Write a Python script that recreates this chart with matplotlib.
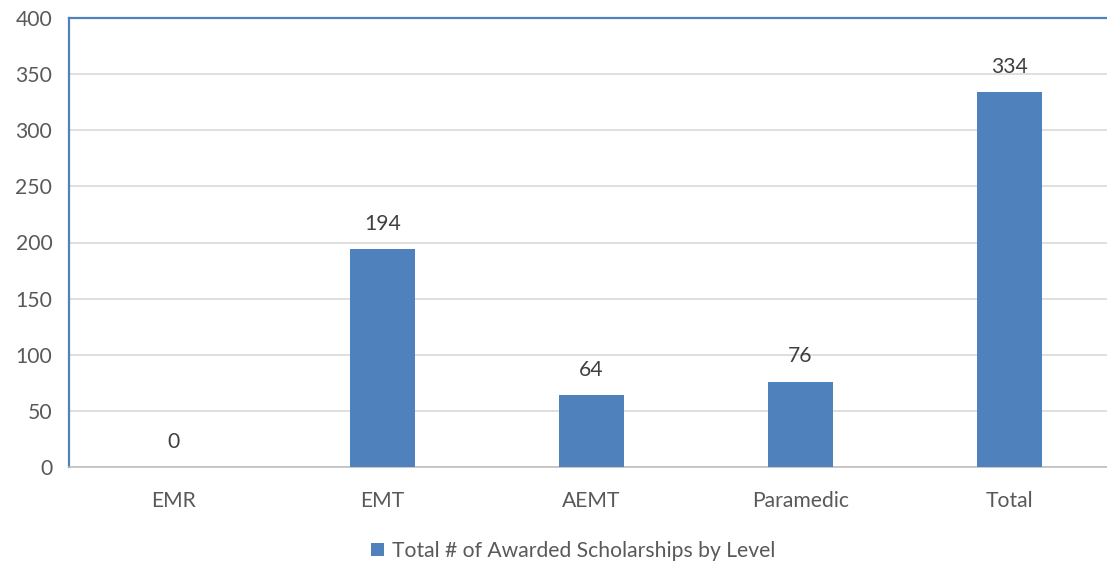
import matplotlib
matplotlib.use("Agg")
import matplotlib.pyplot as plt

# data
levels = ["EMR", "EMT", "AEMT", "Paramedic", "Total"]
awarded = [0, 194, 64, 76, 334]
yticks = [0, 50, 100, 150, 200, 250, 300, 350, 400]
series_name = "Total # of Awarded Scholarships by Level"

bar_color = "#4f81bd"
text_color = "#595959"
fs = 15.2

plt.rcParams['font.family'] = ['Lato', 'DejaVu Sans']

fig = plt.figure(figsize=(11.07, 5.65), dpi=100)
ax = fig.add_axes([69 / 1107, 98 / 565, 1 - 69 / 1107, 449 / 565])

x = list(range(len(levels)))
bars = ax.bar(x, awarded, width=0.31, color=bar_color, label=series_name, zorder=3)

for xi, v in zip(x, awarded):
    ax.annotate(str(v), (xi, v), xytext=(0, 11), textcoords="offset points",
                ha="center", va="bottom", fontsize=fs, color="#404040")

ax.set_xlim(-0.5, 4.5 - 7 / 209)
ax.set_ylim(0, 400)
ax.set_yticks(yticks)
ax.set_xticks(x)
ax.set_xticklabels(levels)
ax.tick_params(axis="both", length=0, labelsize=fs, labelcolor=text_color)
ax.tick_params(axis="x", pad=17)
ax.tick_params(axis="y", pad=12)

ax.grid(axis="y", color="#d9d9d9", linewidth=1.2, zorder=0)
ax.set_axisbelow(True)

ax.spines["top"].set_color(bar_color)
ax.spines["left"].set_color(bar_color)
ax.spines["top"].set_linewidth(1.6)
ax.spines["left"].set_linewidth(1.6)
ax.spines["bottom"].set_color("#bfbfbf")
ax.spines["bottom"].set_linewidth(1.2)
ax.spines["right"].set_visible(False)

leg = fig.legend(handles=[bars], labels=[series_name], loc="center",
                 bbox_to_anchor=(0.518, 0.025), frameon=False, fontsize=fs,
                 handlelength=0.6, handleheight=0.6, handletextpad=0.4)
for t in leg.get_texts():
    t.set_color(text_color)

fig.savefig("out.png", dpi=100)
